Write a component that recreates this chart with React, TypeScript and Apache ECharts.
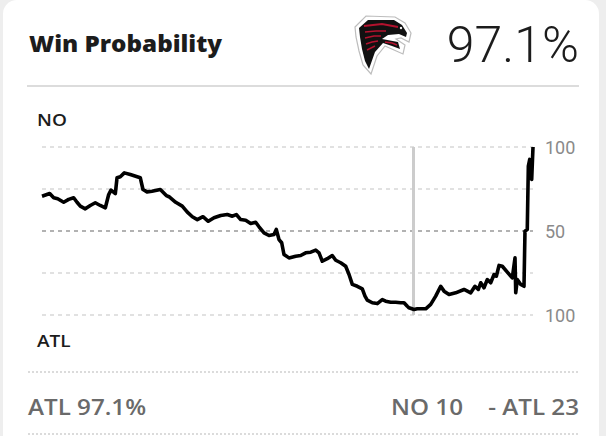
import React, { useEffect, useRef } from "react";
import * as echarts from "echarts";

// Game time (minutes) and win-probability position (0 = ATL 100, 100 = NO 100 on the drawn scale)
const minutes = [
  0, 0.94, 1.43, 1.92, 2.65, 3.26, 3.87, 4.28, 4.68, 5.29, 5.9, 6.51, 7.12, 7.74, 8.15, 8.43, 8.96, 9.17,
  9.57, 10.06, 10.79, 12.01, 12.34, 12.83, 13.44, 14.46, 15.19, 15.52, 16.34, 17.14, 17.76, 18.37, 18.98,
  19.67, 20.32, 21.02, 21.84, 22.64, 23.26, 23.74, 24.28, 24.89, 25.5, 26.11, 26.52, 27.13, 27.74, 28.35,
  28.63, 28.96, 29.29, 29.57, 30.18, 31.0, 31.61, 32.22, 32.84, 33.45, 33.85, 34.25, 34.86, 35.47, 35.89,
  36.5, 37.11, 37.52, 37.92, 38.53, 39.14, 39.47, 39.75, 40.36, 40.97, 41.58, 42.0, 42.61, 43.22, 43.83,
  44.24, 44.64, 44.85, 45.46, 45.86, 46.89, 47.5, 48.11, 48.72, 49.13, 49.74, 50.55, 51.57, 52.39, 52.91,
  53.32, 53.61, 54.01, 54.42, 54.83, 55.24, 55.52, 55.85, 56.25, 56.86, 57.47, 57.8, 57.89, 58.08, 58.5,
  58.9, 59.02, 59.3, 59.43, 59.6, 59.84, 60,
];
const probability = [
  70.7, 72.3, 69.8, 69.2, 67.1, 68.8, 69.8, 67.1, 64.8, 63.2, 65.2, 66.8, 65.2, 63.8, 71.7, 74.3, 72.3, 81.7,
  82.3, 84.6, 83.6, 81.7, 74.7, 73.3, 73.7, 74.7, 71.1, 70.4, 67.1, 64.8, 61.2, 58.5, 56.8,
  58.5, 55.8, 57.9, 59.2, 59.8, 58.8, 59.8, 56.8, 56.4, 54.5, 55.2, 52.5, 48.9, 47.3, 47.9,
  50.9, 44.9, 43.0, 36.0, 34.0, 35.0, 35.4, 37.0, 37.4, 38.6, 37.0, 32.0, 33.5, 35.4, 32.6,
  31.1, 29.0, 24.1, 18.2, 17.1, 15.6, 11.2, 8.8, 7.3, 6.8, 9.2, 8.2, 7.6, 7.6, 7.3,
  7.3, 5.2, 4.3, 3.3, 3.7, 3.7, 6.3, 11.2, 17.1, 14.2, 12.2, 13.2, 15.2, 13.2, 17.1,
  15.2, 19.2, 16.2, 21.1, 19.2, 24.1, 23.1, 29.5, 29.0, 25.5, 22.1, 34.0, 13.2, 21.1, 18.2,
  17.1, 49.9, 50.9, 88.6, 92.6, 80.7, 100,
];
const markerMinute = 45.4;
const yTicks = [0, 25, 50, 75, 100];
const yTickLabels = ["100", "", "50", "", "100"];
const title = "Win Probability";
const bigValue = "97.1%";
const topTeam = "NO";
const bottomTeam = "ATL";
const footerLeft = "ATL 97.1%";
const footerScoreNO = "NO 10";
const footerScoreATL = "- ATL 23";

export default function App() {
  const ref = useRef<HTMLDivElement>(null);
  useEffect(() => {
    if (!ref.current) return;
    const chart = echarts.init(ref.current, undefined, { renderer: "svg" });
    const font = "'Open Sans', Roboto, Arial, sans-serif";
    const logoX = 354;
    const logoY = 15;
    chart.setOption({
      animation: false,
      backgroundColor: "#eeeeee",
      grid: { left: 42, right: 73, top: 147, height: 168 },
      xAxis: { type: "value", min: 0, max: 60, show: false },
      yAxis: {
        type: "value",
        position: "right",
        min: 0,
        max: 100,
        interval: 25,
        axisLine: { show: false },
        axisTick: { show: false },
        axisLabel: {
          margin: 12,
          fontSize: 18,
          color: "#8a8a8a",
          fontFamily: "Roboto, Arial, sans-serif",
          formatter: (v: number) => yTickLabels[yTicks.indexOf(v)] ?? "",
        },
        splitLine: {
          show: true,
          lineStyle: {
            type: [4, 4],
            width: 1.5,
            color: ["#d8d8d8", "#d8d8d8", "#999999", "#d8d8d8", "#d8d8d8"],
          },
        },
      },
      series: [
        {
          type: "line",
          data: minutes.map((m, i) => [m, probability[i]]),
          showSymbol: false,
          symbol: "none",
          lineStyle: { color: "#000000", width: 3.6, join: "round" },
          z: 5,
          markLine: {
            silent: true,
            symbol: "none",
            label: { show: false },
            lineStyle: { color: "#cccccc", width: 3, type: "solid" },
            data: [{ xAxis: markerMinute }],
            z: 3,
          },
        },
      ],
      graphic: [
        {
          type: "rect",
          z: -10,
          shape: { x: 3, y: 0, width: 596, height: 470, r: 14 },
          style: { fill: "#ffffff" },
        },
        {
          type: "text",
          x: 29,
          y: 43,
          scaleX: 1.1,
          style: {
            text: title,
            font: `800 22px ${font}`,
            fill: "#1c1c1c",
            textVerticalAlign: "middle",
          },
        },
        {
          type: "text",
          x: 579,
          y: 45,
          style: {
            text: bigValue,
            font: `300 50px Roboto, Arial, sans-serif`,
            fill: "#1c1c1c",
            textAlign: "right",
            textVerticalAlign: "middle",
          },
        },
        {
          type: "group",
          x: logoX,
          y: logoY,
          children: [
            {
              type: "polygon",
              shape: {
                points: [
                  [1, 12], [12, 1], [41, 2], [51, 8], [57, 18], [55, 27], [47, 23], [42, 24], [51, 30],
                  [49, 39], [40, 35], [31, 31], [23, 41], [17, 59], [9, 50], [5, 36], [2, 22],
                ],
              },
              style: { fill: "#ffffff", stroke: "#bdbdbd", lineWidth: 1.2 },
            },
            {
              type: "polygon",
              shape: {
                points: [
                  [5, 13], [14, 5], [40, 5], [48, 10], [53, 18], [52, 22], [45, 19], [34, 20], [28, 24],
                  [44, 27], [46, 34], [38, 31], [29, 28], [21, 37], [15, 54], [11, 46], [8, 34], [6, 22],
                ],
              },
              style: { fill: "#111111" },
            },
            { type: "polyline", shape: { points: [[10, 11], [28, 9], [44, 12]] }, style: { stroke: "#b3122e", lineWidth: 2, fill: "none" } },
            { type: "polyline", shape: { points: [[11, 17], [22, 16], [32, 16]] }, style: { stroke: "#b3122e", lineWidth: 1.6, fill: "none" } },
            { type: "polyline", shape: { points: [[11, 23], [20, 21], [27, 21]] }, style: { stroke: "#b3122e", lineWidth: 1.6, fill: "none" } },
            { type: "polyline", shape: { points: [[12, 29], [18, 27], [24, 26]] }, style: { stroke: "#b3122e", lineWidth: 1.5, fill: "none" } },
            { type: "polyline", shape: { points: [[13, 35], [17, 33], [21, 31]] }, style: { stroke: "#b3122e", lineWidth: 1.4, fill: "none" } },
            { type: "polyline", shape: { points: [[31, 27], [38, 28], [43, 30]] }, style: { stroke: "#b3122e", lineWidth: 1.4, fill: "none" } },
            { type: "circle", shape: { cx: 47, cy: 13, r: 1.2 }, style: { fill: "#ffffff" } },
          ],
        },
        {
          type: "line",
          shape: { x1: 27, y1: 86, x2: 579, y2: 86 },
          style: { stroke: "#dcdcdc", lineWidth: 2 },
        },
        {
          type: "text",
          x: 37,
          y: 119,
          scaleX: 1.12,
          style: { text: topTeam, font: `600 17px ${font}`, fill: "#1c1c1c", textVerticalAlign: "middle" },
        },
        {
          type: "text",
          x: 37,
          y: 340,
          scaleX: 1.12,
          style: { text: bottomTeam, font: `600 17px ${font}`, fill: "#1c1c1c", textVerticalAlign: "middle" },
        },
        {
          type: "line",
          shape: { x1: 28, y1: 372, x2: 579, y2: 372 },
          style: { stroke: "#d0d0d0", lineWidth: 1.5, lineDash: [2, 2] },
        },
        {
          type: "text",
          x: 28,
          y: 406,
          scaleX: 1.1,
          style: { text: footerLeft, font: `600 22px ${font}`, fill: "#6a6a6a", textVerticalAlign: "middle" },
        },
        {
          type: "text",
          x: 579,
          y: 406,
          scaleX: 1.1,
          style: {
            text: footerScoreATL,
            font: `600 22px ${font}`,
            fill: "#6a6a6a",
            textAlign: "right",
            textVerticalAlign: "middle",
          },
        },
        {
          type: "text",
          x: 463,
          y: 406,
          scaleX: 1.1,
          style: {
            text: footerScoreNO,
            font: `600 22px ${font}`,
            fill: "#6a6a6a",
            textAlign: "right",
            textVerticalAlign: "middle",
          },
        },
        {
          type: "line",
          shape: { x1: 28, y1: 434, x2: 579, y2: 434 },
          style: { stroke: "#d0d0d0", lineWidth: 1.5, lineDash: [2, 2] },
        },
      ],
    });
    return () => chart.dispose();
  }, []);
  return (
    <div style={{ position: "absolute", left: 0, top: 0, width: 606, height: 436 }}>
      <div ref={ref} style={{ width: 606, height: 436 }} />
    </div>
  );
}
